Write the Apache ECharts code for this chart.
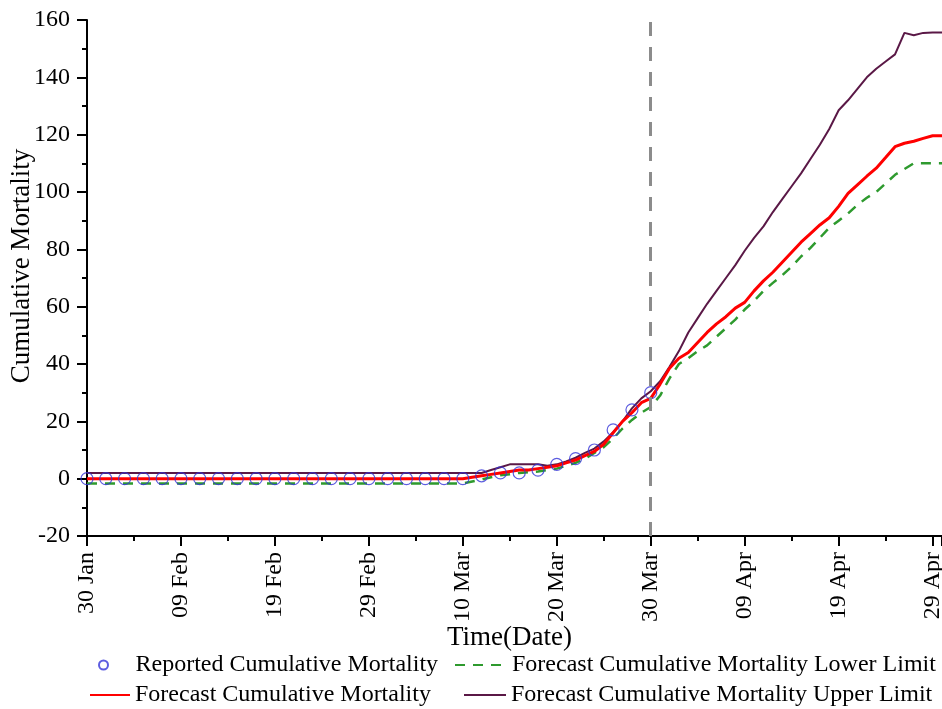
<!DOCTYPE html>
<html>
<head>
<meta charset="utf-8">
<script src="https://cdn.jsdelivr.net/npm/echarts@6/dist/echarts.min.js"></script>
<style>
html,body{margin:0;padding:0;background:#fff;}
#chart{width:942px;height:709px;}
</style>
</head>
<body>
<div id="chart"></div>
<script>
// x tick labels (every 10 days from 30 Jan 2020)
const xTickLabels = ['30 Jan','09 Feb','19 Feb','29 Feb','10 Mar','20 Mar','30 Mar','09 Apr','19 Apr','29 Apr'];

// Reported cumulative mortality (every 2 days, day offset from 30 Jan)
const reportedDays = [0,2,4,6,8,10,12,14,16,18,20,22,24,26,28,30,32,34,36,38,40,42,44,46,48,50,52,54,56,58,60];
const reportedValues = [0,0,0,0,0,0,0,0,0,0,0,0,0,0,0,0,0,0,0,0,0,1,2,2,3,5,7,10,17,24,30];

// Daily forecast series, day 0 (30 Jan) .. day 91
const forecastValues = [
  0,0,0,0,0,0,0,0,0,0, 0,0,0,0,0,0,0,0,0,0, 0,0,0,0,0,0,0,0,0,0, 0,0,0,0,0,0,0,0,0,0,
  0,0.5,1,1.5,2,2.5,3,3,3.5,4,
  4.5,5.5,6.5,8,9.5,12,16,20,23,26.5,
  28,33,38.5,42,44,47.5,51,54,56.5,59.5,
  61.5,65.5,69,72,75.5,79,82.5,85.5,88.5,91,
  95,99.5,102.5,105.5,108.3,112,115.8,117,117.7,118.7,
  119.6,119.6
];
const lowerValues = [
  -1.7,-1.7,-1.7,-1.7,-1.7,-1.7,-1.7,-1.7,-1.7,-1.7, -1.7,-1.7,-1.7,-1.7,-1.7,-1.7,-1.7,-1.7,-1.7,-1.7,
  -1.7,-1.7,-1.7,-1.7,-1.7,-1.7,-1.7,-1.7,-1.7,-1.7, -1.7,-1.7,-1.7,-1.7,-1.7,-1.7,-1.7,-1.7,-1.7,-1.7,
  -1.7,-1,-0.3,0.5,1.2,1.5,2,2.3,2.5,3,
  3.5,4.5,5.5,7,9,11,14,17.5,20.5,23,
  25,29,35,40,42,44.5,46.5,49.5,52.5,55.5,
  59,62,65.5,68.3,71,74,77.5,80.5,84,87.5,
  90,92.5,95.5,98,100,103,106,108,110,110,
  110,110
];
const upperValues = [
  2,2,2,2,2,2,2,2,2,2, 2,2,2,2,2,2,2,2,2,2, 2,2,2,2,2,2,2,2,2,2, 2,2,2,2,2,2,2,2,2,2,
  2,2,2,3,4,5,5,5,5,4.5,
  5,6,7.3,9,10.5,13,16.2,20,24.5,28,
  30.5,34,39,44.5,51,56,61,65.5,70,74.5,
  79.5,84,88,93,97.5,102,106.5,111.5,116.5,122,
  128.5,132,136,140,143,145.5,148,155.5,154.7,155.5,
  155.6,155.6
];
const forecastDateLine = 60; // 30 Mar

const FONT = 'Liberation Serif';
const chart = echarts.init(document.getElementById('chart'), null, {renderer:'canvas'});

const legendBase = {
  orient: 'horizontal', padding: 0, itemGap: 0, selectedMode: false,
  textStyle: {fontFamily: FONT, fontSize: 24, color: '#000', lineHeight: 24}
};

chart.setOption({
  animation: false,
  backgroundColor: '#fff',
  grid: {left: 87, right: 0, top: 20, bottom: 173, containLabel: false, outerBoundsMode: 'none'},
  xAxis: {
    type: 'value', min: 0, max: 91, interval: 10,
    name: 'Time(Date)', nameLocation: 'middle', nameGap: 88, nameMoveOverlap: false,
    nameTextStyle: {fontFamily: FONT, fontSize: 27, color: '#000', padding: [0, 10, 0, 0]},
    axisLine: {onZero: false, lineStyle: {color: '#000', width: 2}},
    axisTick: {show: true, inside: false, length: 10, lineStyle: {color: '#000', width: 2}},
    minorTick: {show: true, splitNumber: 2, length: 5, lineStyle: {color: '#000', width: 2}},
    splitLine: {show: false},
    axisLabel: {
      rotate: 90, margin: 16, fontFamily: FONT, fontSize: 24, color: '#000',
      showMaxLabel: false, hideOverlap: false,
      formatter: v => (v % 10 === 0 ? (xTickLabels[v / 10] || '') : '')
    }
  },
  yAxis: {
    type: 'value', min: -20, max: 160, interval: 20,
    name: 'Cumulative Mortality', nameLocation: 'middle', nameGap: 52, nameMoveOverlap: false,
    nameTextStyle: {fontFamily: FONT, fontSize: 27, color: '#000', padding: [0, 0, 0, 24]},
    axisLine: {show: true, lineStyle: {color: '#000', width: 2}},
    axisTick: {show: true, inside: false, length: 10, lineStyle: {color: '#000', width: 2}},
    minorTick: {show: true, splitNumber: 2, length: 5, lineStyle: {color: '#000', width: 2}},
    splitLine: {show: false},
    axisLabel: {margin: 17, fontFamily: FONT, fontSize: 24, color: '#000'}
  },
  legend: [
    Object.assign({}, legendBase, {left: 98, top: 653, itemWidth: 54, itemHeight: 9,
      data: [{name: 'Reported Cumulative Mortality', icon: 'circle'}]}),
    Object.assign({}, legendBase, {left: 89, top: 683, itemWidth: 40, itemHeight: 14,
      itemStyle: {opacity: 0}, data: ['Forecast Cumulative Mortality']}),
    Object.assign({}, legendBase, {left: 454, top: 653, itemWidth: 52, itemHeight: 14,
      itemStyle: {opacity: 0}, data: ['Forecast Cumulative Mortality Lower Limit']}),
    Object.assign({}, legendBase, {left: 463, top: 683, itemWidth: 42, itemHeight: 14,
      itemStyle: {opacity: 0}, data: ['Forecast Cumulative Mortality Upper Limit']})
  ],
  series: [
    {
      name: 'Forecast Cumulative Mortality Upper Limit', type: 'line', symbol: 'none', showSymbol: false,
      data: upperValues.map((v, i) => [i, v]),
      lineStyle: {color: '#5a1846', width: 2}, itemStyle: {color: '#5a1846'}, z: 2
    },
    {
      name: 'Forecast Cumulative Mortality Lower Limit', type: 'line', symbol: 'none', showSymbol: false,
      data: lowerValues.map((v, i) => [i, v]),
      lineStyle: {color: '#2e9a2e', width: 2.5, type: [10, 8]}, itemStyle: {color: '#2e9a2e'}, z: 2
    },
    {
      name: 'Forecast Cumulative Mortality', type: 'line', symbol: 'none', showSymbol: false,
      data: forecastValues.map((v, i) => [i, v]),
      lineStyle: {color: '#ff0000', width: 3}, itemStyle: {color: '#ff0000'}, z: 3,
      markLine: {
        silent: true, symbol: ['none', 'none'], label: {show: false},
        lineStyle: {color: '#8c8c8c', width: 3, type: [14, 11]},
        data: [{xAxis: forecastDateLine}]
      }
    },
    {
      name: 'Reported Cumulative Mortality', type: 'scatter', symbol: 'circle', symbolSize: 12,
      data: reportedDays.map((d, i) => [d, reportedValues[i]]),
      itemStyle: {color: 'rgba(0,0,0,0)', borderColor: '#3535d8', borderWidth: 1.2}, z: 4
    }
  ]
});
</script>
</body>
</html>
